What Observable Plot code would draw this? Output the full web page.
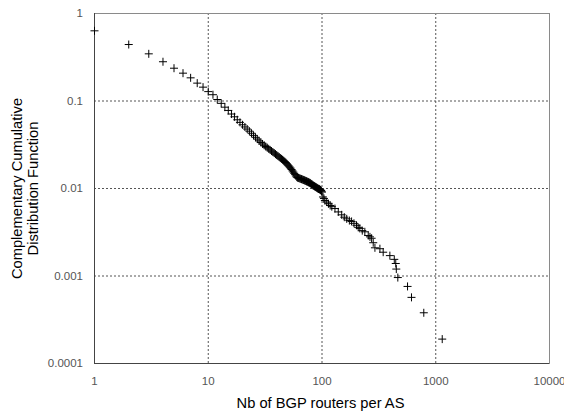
<!DOCTYPE html>
<html><head><meta charset="utf-8">
<script src="https://cdn.jsdelivr.net/npm/d3@7"></script>
<script src="https://cdn.jsdelivr.net/npm/@observablehq/plot@0.6"></script>
<style>body{margin:0;background:#fff}</style>
</head><body><div id="chart"></div>
<script>
const denseX = [1,2,3,4,5,6,7,8,9,10,11,12,13,14,15,16,17,18,19,20,21,22,23,24,25,26,27,28,29,30,31,32,33,34,35,36,37,38,39,40,41,42,43,44,45,46,47,48,49,50,51,52,53,54,55,56,57,58,59,60,61,62,63,64,65,66,67,68,69,70,71,72,73,74,75,76,77,78,79,80,81,82,83,84,85,86,87,88,89,90,91,92,93,94,95,96,97,98,99,100];
const denseY = [0.634,0.442,0.346,0.281,0.237,0.208,0.184,0.160,0.144,0.128,
0.118,0.104,0.094,0.085,0.078,0.071,0.066,0.061,0.057,0.0535,
0.0505,0.0478,0.0452,0.0428,0.0405,0.0385,0.0367,0.0350,0.0336,0.0323,
0.0312,0.0302,0.0293,0.0284,0.0276,0.0268,0.0261,0.0254,0.0247,0.0241,
0.0235,0.0229,0.0223,0.0218,0.0213,0.0208,0.0203,0.0198,0.0192,0.0186,
0.0181,0.0176,0.0171,0.0165,0.0159,0.0154,0.0149,0.0144,0.0139,0.0135,
0.0133,0.0132,0.0131,0.0130,0.0129,0.0128,0.0127,0.0126,0.0125,0.0124,
0.0123,0.0122,0.0121,0.0120,0.0119,0.0118,0.0117,0.0116,0.0115,0.0113,
0.0112,0.0111,0.0109,0.0108,0.0107,0.0106,0.0105,0.0104,0.0103,0.0102,
0.0101,0.0100,0.0099,0.0099,0.0098,0.0097,0.0096,0.0095,0.0093,0.0091];
const tailX = [102,104,106,110,114,118,122,130,139,149,157,165,174,182,191,201,208,215,226,238,255,264,273,282,292,323,345,395,432,445,450,464,565,612,785,1140];
const tailY = [0.0080,0.0077,0.0073,0.0070,0.0067,0.0064,0.0062,0.0059,0.0054,0.0050,
0.0047,0.0045,0.0043,0.0042,0.0040,0.0038,0.0036,0.0035,0.0033,0.0032,
0.0029,0.0028,0.0027,0.0024,0.0021,0.00205,0.00187,0.00171,0.00155,0.00139,
0.0012,0.00096,0.00076,0.00057,0.00038,0.00019];
const xTicks = [1,10,100,1000,10000];
const yTicks = [1,0.1,0.01,0.001,0.0001];
const xGrid = [10,100,1000];
const yGrid = [0.1,0.01,0.001];
const xTitle = "Nb of BGP routers per AS";
const yTitle = "Complementary Cumulative\nDistribution Function";

const points = denseX.map((x,i)=>({x, y: denseY[i]}))
  .concat(tailX.map((x,i)=>({x, y: tailY[i]})));

const font = "'Liberation Sans', Arial, sans-serif";
const chart = Plot.plot({
  width: 564, height: 416,
  marginLeft: 94, marginRight: 15, marginTop: 13, marginBottom: 53,
  style: {fontFamily: font, fontSize: "11.5px", background: "#fff", overflow: "visible"},
  x: {type: "log", domain: [1, 10000]},
  y: {type: "log", domain: [0.0001, 1]},
  marks: [
    Plot.gridX(xGrid, {stroke: "#555", strokeOpacity: 1, strokeDasharray: "2,2"}),
    Plot.gridY(yGrid, {stroke: "#555", strokeOpacity: 1, strokeDasharray: "2,2"}),
    Plot.frame({stroke: "#8a8a8a"}),
    Plot.ruleX([1], {stroke: "#444"}),
    Plot.ruleY([0.0001], {stroke: "#444"}),
    Plot.axisX(xTicks, {tickSize: 0, tickPadding: 13, tickFormat: d => String(d), fill: "#555", label: null}),
    Plot.axisY(yTicks, {tickSize: 0, tickPadding: 11.5, tickFormat: d => String(d), fill: "#555", label: null}),
    Plot.dot(points, {x: "x", y: "y", symbol: "plus", r: 2.7, fill: "none", stroke: "#000", strokeWidth: 1}),
    Plot.text([xTitle], {text: d => d, frameAnchor: "bottom", dy: 40, dx: -1.5, lineAnchor: "middle", fontSize: 14.7, fill: "#000"}),
    Plot.text([yTitle], {text: d => d, frameAnchor: "left", rotate: -90, dx: -70, textAnchor: "middle", lineAnchor: "middle", lineHeight: 1.09, fontSize: 14.7, fill: "#000"})
  ]
});
document.getElementById("chart").appendChild(chart);
</script>
</body></html>
